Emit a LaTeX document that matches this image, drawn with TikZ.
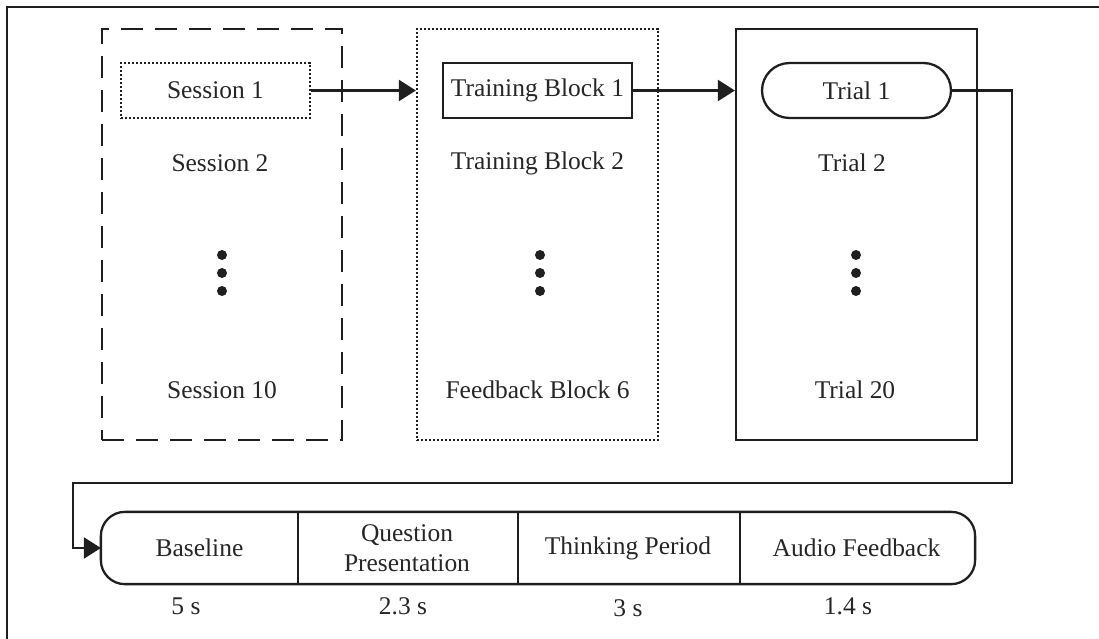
\documentclass[tikz,border=0pt]{standalone}
\usepackage{fontspec}
\setmainfont{Liberation Serif}
\usetikzlibrary{arrows.meta}
\tikzstyle{arrow} = [draw, line width=1.3pt, -{Triangle[length=0.34cm,width=0.42cm]}]
\tikzstyle{txt} = [font=\fontsize{14.5}{17}\selectfont, inner sep=0pt, text=black!85]
\tikzstyle{stagebox} = [txt, minimum width=3.78cm, minimum height=1.1cm]
\tikzstyle{cell} = [txt, minimum height=1.4cm, align=center]

\begin{document}
\begin{tikzpicture}[x=0.02cm, y=-0.02cm, line width=1.3pt, black!88]
\useasboundingbox (0,0) rectangle (1099,639);
\draw (7,639) -- (7,7) -- (1099,7);

% three containers
\node [draw, line width=1.6pt, dash pattern=on 0.44cm off 0.24cm, minimum width=4.8cm, minimum height=8.22cm] (sessions) at (222,234.5) {};
\node [draw, dash pattern=on 0.04cm off 0.04cm, minimum width=4.82cm, minimum height=8.22cm] (blocks) at (537.5,234.5) {};
\node [draw, minimum width=4.82cm, minimum height=8.22cm] (trials) at (856.5,234.5) {};

\node [stagebox, draw, dash pattern=on 0.04cm off 0.04cm] (s1) at (215.5,90.5) {Session 1};
\node [txt] (s2) at (220,163) {Session 2};
\node [txt] (s10) at (222,390) {Session 10};
\fill (222,255) circle (0.1cm) (222,273) circle (0.1cm) (222,291) circle (0.1cm);

\node [stagebox, draw] (b1) at (537.5,90.5) {Training Block 1};
\node [txt] (b2) at (537.5,163) {Training Block 2};
\node [txt] (b6) at (537.5,390) {Feedback Block 6};
\fill (540,255) circle (0.1cm) (540,273) circle (0.1cm) (540,291) circle (0.1cm);

\node [stagebox, draw, rounded corners=0.55cm] (t1) at (856.5,90.5) {Trial 1};
\node [txt] (t2) at (852,163) {Trial 2};
\node [txt] (t20) at (855,390) {Trial 20};
\fill (856,255) circle (0.1cm) (856,273) circle (0.1cm) (856,291) circle (0.1cm);

\draw [arrow] (s1.east) -- (blocks.west |- s1.east);
\draw [arrow] (b1.east) -- (trials.west |- b1.east);

% trial timeline
\node [cell, minimum width=3.9cm] (base) at (199.5,548) {Baseline};
\node [cell, minimum width=4.4cm] (quest) at (407,548) {Question\\Presentation};
\node [cell, minimum width=4.44cm] (think) at (628,548) {Thinking Period};
\node [cell, minimum width=4.7cm] (audio) at (856.5,548) {Audio Feedback};
\draw [rounded corners=0.48cm] (base.north west) rectangle (audio.south east);
\draw (base.north east) -- (base.south east);
\draw (quest.north east) -- (quest.south east);
\draw (think.north east) -- (think.south east);

\node [txt] (d1) at (186,606) {5 s};
\node [txt] (d2) at (403,606) {2.3 s};
\node [txt] (d3) at (628,608) {3 s};
\node [txt] (d4) at (848,606) {1.4 s};

\coordinate (turnA) at (1012,483);
\coordinate (turnB) at (73,483);
\draw [arrow] (t1.east) -| (turnA) -- (turnB) |- (base.west);
\end{tikzpicture}
\end{document}
